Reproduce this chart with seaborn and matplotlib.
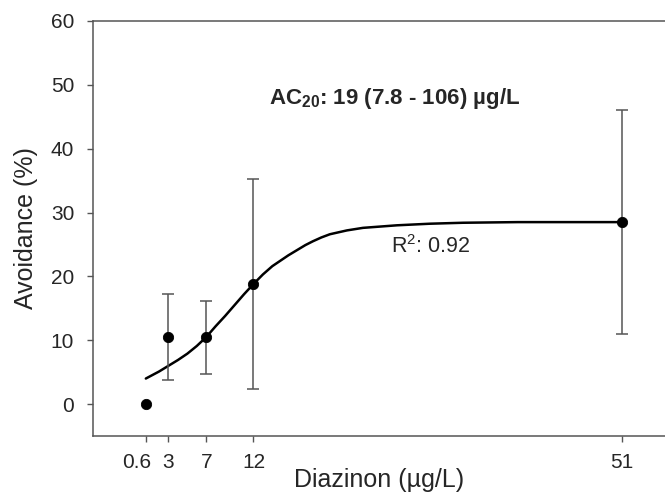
import seaborn as sns
import matplotlib.pyplot as plt
import pandas as pd
from matplotlib.transforms import ScaledTranslation

# measured avoidance per concentration
conc = [0.6, 3, 7, 12, 51]
avoid = [0.0, 10.5, 10.5, 18.8, 28.5]
err_low = [0.0, 3.7, 4.7, 2.3, 11.0]
err_high = [0.0, 17.3, 16.2, 35.3, 46.1]
tick_labels = ["0.6", "3", "7", "12", "51"]

# fitted curve
curve_x = [0.6, 2, 3, 4, 5, 6, 7, 8, 9, 10, 11, 12, 13, 14, 14.8, 15.7,
           16.6, 17.5, 18.3, 19.2, 20.1, 21.9, 23.6, 27.2, 30.7, 34.2, 40, 51]
curve_y = [4.0, 5.1, 6.0, 6.9, 7.9, 9.1, 10.5, 12.2, 13.8, 15.5, 17.2, 18.8,
           20.3, 21.6, 22.4, 23.3, 24.1, 24.9, 25.5, 26.1, 26.6, 27.2, 27.6,
           28.0, 28.25, 28.4, 28.5, 28.5]


def main():
    sns.set_theme(style="ticks")
    plt.rcParams["font.family"] = ["Liberation Sans", "DejaVu Sans"]
    plt.rcParams["mathtext.fontset"] = "custom"
    plt.rcParams["mathtext.rm"] = "Liberation Sans"
    plt.rcParams["mathtext.bf"] = "Liberation Sans:bold"

    fig = plt.figure(figsize=(6.65, 4.94), dpi=100)
    ax = fig.add_axes([0.1398, 0.1174, 0.8602, 0.8401])

    points = pd.DataFrame({"conc": conc, "avoid": avoid})
    curve = pd.DataFrame({"x": curve_x, "y": curve_y})

    sns.lineplot(data=curve, x="x", y="y", ax=ax, color="black", linewidth=1.8)

    lower = [a - lo for a, lo in zip(avoid, err_low)]
    upper = [hi - a for a, hi in zip(avoid, err_high)]
    ax.errorbar(conc[1:], avoid[1:], yerr=[lower[1:], upper[1:]], fmt="none",
                ecolor="#555555", elinewidth=1.1, capsize=4.5, capthick=1.1)

    sns.scatterplot(data=points, x="conc", y="avoid", ax=ax, color="black",
                    s=55, edgecolor="black", zorder=5)

    ax.text(13.7, 47.8, r"AC$_\mathbf{20}$: 19 (7.8 - 106) µg/L",
            fontsize=16, fontweight="bold", ha="left", va="center")
    ax.text(26.6, 24.7, r"R$^2$: 0.92", fontsize=15.5, ha="left", va="center")

    ax.set_xlim(-5, 55.6)
    ax.set_ylim(-5, 60)
    ax.set_xticks(conc)
    ax.set_xticklabels(tick_labels)
    ax.set_yticks([0, 10, 20, 30, 40, 50, 60])
    ax.set_xlabel("Diazinon (µg/L)", fontsize=18, va="baseline")
    ax.xaxis.set_label_coords(0.5, -0.1222)
    ax.set_ylabel("Avoidance (%)", fontsize=18, labelpad=9)

    ax.tick_params(axis="both", labelsize=15, length=4.5, width=1,
                   color="#555555", direction="out")
    ax.tick_params(axis="x", pad=8)
    ax.tick_params(axis="y", pad=9)
    for side in ["left", "bottom", "top"]:
        ax.spines[side].set_color("#555555")
        ax.spines[side].set_linewidth(1.1)
        ax.spines[side].set_visible(True)
    ax.spines["right"].set_visible(False)

    # the 0.6 label sits a little left of its tick so it clears the 3
    first = ax.xaxis.get_major_ticks()[0].label1
    first.set_transform(first.get_transform()
                        + ScaledTranslation(-0.09, 0, fig.dpi_scale_trans))

    plt.savefig("out.png", dpi=100)


if __name__ == "__main__":
    main()
